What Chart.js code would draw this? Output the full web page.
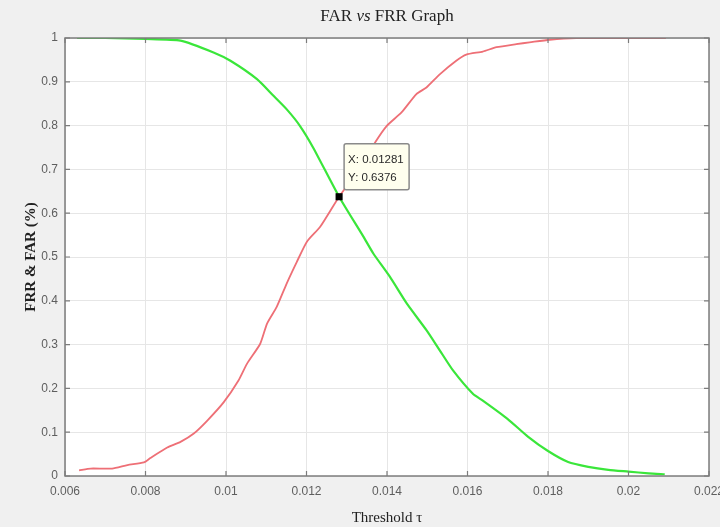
<!DOCTYPE html>
<html lang="en">
<head>
<title>FAR vs FRR Graph</title>
<meta charset="utf-8"/>
<script src="https://cdn.jsdelivr.net/npm/chart.js"></script>
<style>
html, body {
  margin: 0;
  padding: 0;
  background: #f0f0f0;
}
</style>
</head>
<body>
<canvas id="chart" width="720" height="527"></canvas>
<script>
"use strict";
// FAR (red) curve
const farX = [0.00635, 0.00664, 0.00717, 0.00755, 0.00796, 0.00812, 0.00854, 0.00887, 0.0092, 0.00953,
              0.00994, 0.01031, 0.01052, 0.01085, 0.01102, 0.01126, 0.01151, 0.01176, 0.01201, 0.01234,
              0.01281, 0.0133, 0.0137, 0.01399, 0.01436, 0.01473, 0.01498, 0.01531, 0.01572, 0.01597,
              0.01638, 0.01672, 0.01721, 0.01754, 0.01804, 0.0187, 0.0195, 0.02093];
const farY = [0.013, 0.017, 0.017, 0.025, 0.031, 0.041, 0.065, 0.078, 0.097, 0.126,
              0.168, 0.218, 0.256, 0.302, 0.348, 0.386, 0.44, 0.489, 0.535, 0.569,
              0.6376, 0.70, 0.761, 0.799, 0.83, 0.872, 0.887, 0.917, 0.948, 0.962,
              0.969, 0.979, 0.986, 0.99, 0.996, 1.0, 1.0, 1.0];
// FRR (green) curve
const frrX = [0.0063, 0.007, 0.008, 0.00887, 0.00969, 0.01011, 0.01077, 0.01118, 0.01151, 0.01184,
              0.01217, 0.01281, 0.01341, 0.01366, 0.01407, 0.01449, 0.01498, 0.01531, 0.01564, 0.01614,
              0.01638, 0.017, 0.0175, 0.018, 0.0185, 0.019, 0.0195, 0.02, 0.0205, 0.0209];
const frrY = [1.0, 1.0, 0.998, 0.994, 0.967, 0.948, 0.906, 0.868, 0.837, 0.799,
              0.749, 0.6376, 0.547, 0.508, 0.455, 0.394, 0.333, 0.287, 0.241, 0.187,
              0.172, 0.13, 0.09, 0.057, 0.032, 0.021, 0.014, 0.01, 0.006, 0.004];
// data tip
const tipX = 0.01281;
const tipY = 0.6376;
const xTickLabels = ["0.006", "0.008", "0.01", "0.012", "0.014", "0.016", "0.018", "0.02", "0.022"];
const yTickLabels = ["0", "0.1", "0.2", "0.3", "0.4", "0.5", "0.6", "0.7", "0.8", "0.9", "1"];

function toPoints(xs, ys){
  return xs.map((x, i) => ({x: x, y: ys[i]}));
}

const AXIS_COLOR = "#7c7c7c";

const framePlugin = {
  id: "frame",
  beforeDraw(chart){
    const ctx = chart.ctx;
    const a = chart.chartArea;
    ctx.save();
    ctx.fillStyle = "#f0f0f0";
    ctx.fillRect(0, 0, chart.width, chart.height);
    ctx.fillStyle = "#ffffff";
    ctx.fillRect(a.left, a.top, a.right - a.left, a.bottom - a.top);
    ctx.restore();
  },
  afterDraw(chart){
    const ctx = chart.ctx;
    const a = chart.chartArea;
    const xs = chart.scales.x;
    const ys = chart.scales.y;
    ctx.save();
    // box
    ctx.strokeStyle = AXIS_COLOR;
    ctx.lineWidth = 1.5;
    ctx.strokeRect(a.left, a.top, a.right - a.left, a.bottom - a.top);
    // inward ticks
    ctx.lineWidth = 1.2;
    ctx.beginPath();
    xs.ticks.forEach(t => {
      const px = xs.getPixelForValue(t.value);
      ctx.moveTo(px, a.bottom); ctx.lineTo(px, a.bottom - 5);
      ctx.moveTo(px, a.top); ctx.lineTo(px, a.top + 5);
    });
    ys.ticks.forEach(t => {
      const py = ys.getPixelForValue(t.value);
      ctx.moveTo(a.left, py); ctx.lineTo(a.left + 5, py);
      ctx.moveTo(a.right, py); ctx.lineTo(a.right - 5, py);
    });
    ctx.stroke();

    // title with italic "vs"
    const parts = [
      ["FAR ", "17px 'Liberation Serif'"],
      ["vs", "italic 17px 'Liberation Serif'"],
      [" FRR Graph", "17px 'Liberation Serif'"]
    ];
    let total = 0;
    parts.forEach(p => { ctx.font = p[1]; total += ctx.measureText(p[0]).width; });
    let tx = (a.left + a.right) / 2 - total / 2;
    ctx.fillStyle = "#222222";
    ctx.textBaseline = "middle";
    ctx.textAlign = "left";
    parts.forEach(p => {
      ctx.font = p[1];
      ctx.fillText(p[0], tx, 17);
      tx += ctx.measureText(p[0]).width;
    });

    // data tip box
    const px = xs.getPixelForValue(tipX);
    const py = ys.getPixelForValue(tipY);
    const bx = px + 5, by = py - 53, bw = 65, bh = 46;
    ctx.fillStyle = "#ffffee";
    ctx.strokeStyle = "#8a8a8a";
    ctx.lineWidth = 1.5;
    ctx.beginPath();
    ctx.roundRect(bx, by, bw, bh, 2);
    ctx.fill();
    ctx.stroke();
    ctx.fillStyle = "#2a2a2a";
    ctx.font = "11.5px 'Liberation Sans'";
    ctx.fillText("X: " + tipX, bx + 4, by + 16);
    ctx.fillText("Y: " + tipY, bx + 4, by + 34);
    ctx.restore();
  }
};

new Chart(document.getElementById("chart"), {
  type: "line",
  data: {
    datasets: [
      {
        label: "tip",
        data: [{x: tipX, y: tipY}],
        showLine: false,
        pointStyle: "rect",
        pointRadius: 5,
        backgroundColor: "#000000",
        borderColor: "#000000",
        borderWidth: 0
      },
      {
        label: "FRR",
        data: toPoints(frrX, frrY),
        borderColor: "#3ae63a",
        borderWidth: 2.2,
        pointRadius: 0,
        tension: 0.2
      },
      {
        label: "FAR",
        data: toPoints(farX, farY),
        borderColor: "#ee6f76",
        borderWidth: 1.8,
        pointRadius: 0,
        tension: 0.2
      }
    ]
  },
  options: {
    responsive: false,
    animation: false,
    events: [],
    layout: {
      padding: {top: 38, right: 11, left: 0, bottom: 0}
    },
    plugins: {
      legend: {display: false},
      tooltip: {enabled: false},
      title: {display: false}
    },
    scales: {
      x: {
        type: "linear",
        min: 0.006,
        max: 0.022,
        afterFit: (s) => { s.height = 51; s.paddingLeft = 0; s.paddingRight = 0; },
        grid: {color: "#e6e6e6", lineWidth: 1, tickLength: 0, drawTicks: false},
        border: {display: false},
        ticks: {
          stepSize: 0.002,
          padding: 8,
          maxRotation: 0,
          autoSkip: false,
          color: "#5e5e5e",
          font: {family: "Liberation Sans", size: 12},
          callback: (v, i) => xTickLabels[i]
        },
        title: {
          display: true,
          text: "Threshold τ",
          color: "#222222",
          font: {family: "Liberation Serif", size: 15},
          padding: {top: 1, bottom: 0}
        }
      },
      y: {
        min: 0,
        max: 1,
        afterFit: (s) => { s.width = 65; s.paddingTop = 0; s.paddingBottom = 0; },
        grid: {color: "#e6e6e6", lineWidth: 1, tickLength: 0, drawTicks: false},
        border: {display: false},
        ticks: {
          stepSize: 0.1,
          padding: 7,
          autoSkip: false,
          color: "#5e5e5e",
          font: {family: "Liberation Sans", size: 12},
          callback: (v, i) => yTickLabels[i]
        },
        title: {
          display: true,
          text: "FRR & FAR (%)",
          color: "#222222",
          font: {family: "Liberation Serif", size: 15, weight: "bold"},
          padding: {top: 22, bottom: 0}
        }
      }
    }
  },
  plugins: [framePlugin]
});
</script>
</body>
</html>
